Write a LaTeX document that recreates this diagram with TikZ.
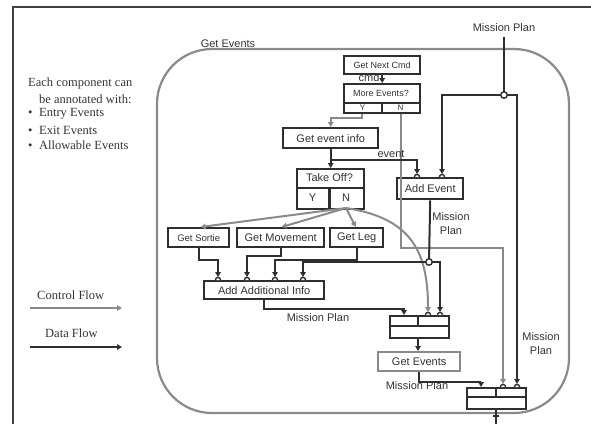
\documentclass[tikz,border=0pt]{standalone}
\usepackage{fontspec}
\setmainfont{Liberation Serif}
\setsansfont{Liberation Sans}
\usetikzlibrary{arrows.meta}
\definecolor{datac}{HTML}{2E2E2E}
\definecolor{ctrlc}{HTML}{8A8A8A}
\definecolor{framec}{HTML}{404040}
\definecolor{txtc}{HTML}{333333}
\begin{document}
\begin{tikzpicture}[x=1pt,y=-1pt,
  sf/.style={font=\sffamily\fontsize{11}{14}\selectfont},
  sfs/.style={font=\sffamily\fontsize{9}{11}\selectfont},
  sfyn/.style={font=\sffamily\fontsize{8}{9}\selectfont},
  box/.style={draw=datac,line width=2.4pt,fill=white,inner sep=0pt,anchor=north west,sf,text=txtc},
  gbox/.style={box,draw=ctrlc},
  lbl/.style={sf,text=txtc,inner sep=0pt,align=center},
  ann/.style={font=\rmfamily\fontsize{12.5}{15}\selectfont,text=txtc,inner sep=0pt,anchor=west},
  dline/.style={draw=datac,line width=2pt},
  data/.style={dline,-{Triangle[length=5pt,width=5.5pt]}},
  dataport/.style={data,shorten >=3pt},
  ctrl/.style={draw=ctrlc,line width=2pt,-{Triangle[length=5pt,width=5.5pt]}},
  ctrlport/.style={ctrl,shorten >=3pt},
  portst/.style={draw=datac,line width=1.4pt,fill=white},
  junc/.style={circle,draw=datac,line width=1.4pt,fill=white,minimum size=6.5pt,inner sep=0pt},
  divline/.style={draw=datac,line width=2.4pt},
]
\useasboundingbox (0,0) rectangle (591,424);
% frame
\draw[framec,line width=1.5pt] (591,7) -- (13,7) -- (13,424);
% outline of the composite
\draw[ctrlc,line width=2.2pt,rounded corners=55pt] (157,49) rectangle (569,413);
\node[lbl] (outlbl) at (228,44) {Get Events};

% annotations
\node[ann] (a1) at (28,83) {Each component can};
\node[ann] (a2) at (39,99) {be annotated with:};
\node[ann] (a3) at (28,114) {\makebox[11pt][l]{•}Entry Events};
\node[ann] (a4) at (28,130) {\makebox[11pt][l]{•}Exit Events};
\node[ann] (a5) at (28,145) {\makebox[11pt][l]{•}Allowable Events};

% legend
\node[ann] (cfl) at (37,295) {Control Flow};
\coordinate (cf1) at (30,308); \coordinate (cf2) at (122,308);
\draw[ctrl] (cf1) -- (cf2);
\node[ann] (dfl) at (45,333) {Data Flow};
\coordinate (df1) at (30,347); \coordinate (df2) at (122,347);
\draw[data] (df1) -- (df2);

% boxes
\node[box,sfs,minimum width=76pt,minimum height=18pt] (nextcmd) at (343,55) {Get Next Cmd};
\node[box,minimum width=76pt,minimum height=29pt] (more) at (343,83) {};
\node[lbl,sfs] (moretxt) at (381,93.5) {More Events?};
\draw[divline] (more.west |- 0,103) -- (more.east |- 0,103);
\draw[divline] (382,103) -- (382,0 |- more.south);
\node[lbl,sfyn] (my) at (362.5,107.5) {Y};
\node[lbl,sfyn] (mn) at (400.5,107.5) {N};

\node[box,minimum width=95pt,minimum height=20pt] (evinfo) at (282,127) {Get event info};

\node[box,minimum width=67pt,minimum height=40pt] (takeoff) at (296,168) {};
\node[lbl] (totxt) at (329.5,178) {Take Off?};
\draw[divline] (takeoff.west |- 0,188) -- (takeoff.east |- 0,188);
\draw[divline] (329.5,188) -- (329.5,0 |- takeoff.south);
\node[lbl] (ty) at (312.5,198) {Y};
\node[lbl] (tn) at (346,198) {N};

\node[box,minimum width=66pt,minimum height=21pt] (addev) at (396,177) {Add Event};
\node[box,font=\sffamily\fontsize{9.5}{11}\selectfont,minimum width=61pt,minimum height=19pt] (sortie) at (167,227) {Get Sortie};
\node[box,minimum width=87pt,minimum height=19pt] (movement) at (236,227) {Get Movement};
\node[box,minimum width=53pt,minimum height=19pt] (leg) at (329,227) {Get Leg};
\node[box,minimum width=120pt,minimum height=18pt] (addinfo) at (203,280) {Add Additional Info};

\node[box,minimum width=59pt,minimum height=22pt] (merge1) at (389,315) {};
\draw[divline] (merge1.west |- 0,326) -- (merge1.east |- 0,326);
\draw[divline] (418,0 |- merge1.north) -- (418,326);

\node[gbox,minimum width=82pt,minimum height=19pt] (getev) at (377,351) {Get Events};

\node[box,minimum width=59pt,minimum height=21pt] (merge2) at (466,387) {};
\draw[divline] (merge2.west |- 0,397) -- (merge2.east |- 0,397);
\draw[divline] (496,0 |- merge2.north) -- (496,397);

% control flow
\coordinate (tno) at (346,208);
\draw[ctrl] (362,0 |- more.south) -- (362,118) -| (evinfo.north);
\draw[ctrlport] (401,0 |- more.south) -- (401,248) -| (503,0 |- merge2.north);
\draw[ctrl] (tno) -- ([xshift=2pt]sortie.north);
\draw[ctrl] (tno) -- ([xshift=1pt]movement.north);
\draw[ctrl] (tno) -- ([xshift=-1pt]leg.north);
\draw[ctrlport] (tno) .. controls (410,218) and (428,250) .. (428,0 |- merge1.north);

% data flow
\draw[data] (nextcmd.south) -- (more.north);
\coordinate (ev) at (329.5,160);
\draw[data] (evinfo.south) -- (takeoff.north);
\draw[dataport] (ev) -| (417,0 |- addev.north);

\node[lbl] (mptop) at (504,28) {Mission Plan};
\coordinate (J1) at (504,95);
\draw[dline] (mptop.south) ++(0,5) -- (J1);
\draw[dataport] (J1) -| (442,0 |- addev.north);
\draw[dataport] (J1) -| (517,0 |- merge2.north);

\coordinate (J2) at (429,262);
\draw[dline] (addev.south) -- (J2);
\draw[dataport] (J2) -| (303,0 |- addinfo.north);
\draw[dataport] (J2) -| (440,0 |- merge1.north);

\draw[dataport] (sortie.south) -- ++(0,12) -| (218,0 |- addinfo.north);
\draw[dataport] (movement.south) -- ++(0,8) -| (247,0 |- addinfo.north);
\draw[dataport] (leg.south) -- ++(0,12) -| (275,0 |- addinfo.north);
\draw[data] (addinfo.south) -- ++(0,9) -| (404,0 |- merge1.north);
\draw[data] (418,0 |- merge1.south) -- (418,0 |- getev.north);
\draw[data] (getev.south) -- ++(0,10) -| (481,0 |- merge2.north);
\coordinate (out) at (496,424);
\draw[dline] (496,0 |- merge2.south) -- (out);
\draw[dline] (493,416) -- (499,416);

% ports
\foreach \px/\py in {417/177,442/177,218/280,247/280,275/280,303/280,428/315,440/315,503/387,517/387}
  \draw[portst] (\px-2.6,\py) arc[start angle=180,end angle=360,radius=2.6];
\node[junc] (jc1) at (J1) {};
\node[junc] (jc2) at (J2) {};

% labels
\node[lbl] (cmdl) at (369,78) {cmd};
\node[lbl] (evl) at (391,154) {event};
\node[lbl] (mp1) at (451,224) {Mission\\Plan};
\node[lbl] (mp2) at (541,344) {Mission\\Plan};
\node[lbl] (mp3) at (318,318) {Mission Plan};
\node[lbl] (mp4) at (417,386) {Mission Plan};
\end{tikzpicture}
\end{document}
